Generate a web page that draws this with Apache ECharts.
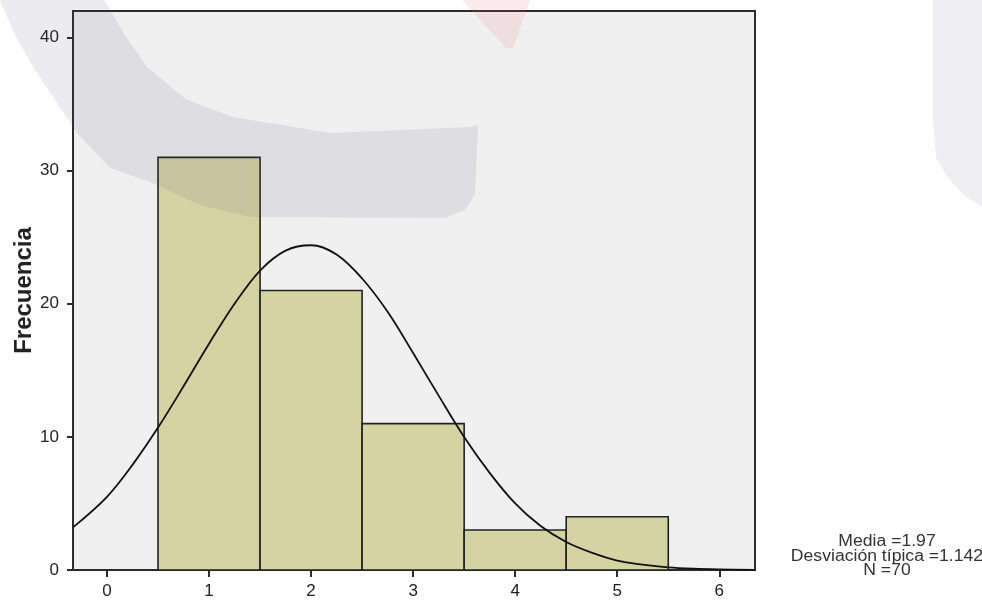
<!DOCTYPE html>
<html>
<head>
<meta charset="utf-8">
<script src="https://cdn.jsdelivr.net/npm/echarts@6/dist/echarts.min.js"></script>
<style>
html,body{margin:0;padding:0;background:#fff;}
#chart{width:982px;height:603px;}
</style>
</head>
<body>
<div id="chart"></div>
<script>
// Histogram bins (centre of each bin, width 1) and frequencies
var binCenters = [1, 2, 3, 4, 5];
var frequencies = [31, 21, 11, 3, 4];
// Normal curve
var curveX = [-0.333, 0, 0.25, 0.5, 0.75, 1, 1.25, 1.5, 1.75, 2, 2.25, 2.5, 2.75, 3, 3.25, 3.5, 3.75, 4, 4.25, 4.5, 4.75, 5, 5.25, 5.5, 5.75, 6, 6.35];
var curveY = [3.2, 5.5, 7.9, 10.7, 13.8, 17.0, 20.0, 22.5, 24.0, 24.4, 23.7, 21.9, 19.4, 16.3, 13.1, 10.0, 7.3, 5.0, 3.3, 2.1, 1.3, 0.7, 0.4, 0.2, 0.1, 0.05, 0.01];
var xTickValues = [0, 1, 2, 3, 4, 5, 6];
var statsLines = ['Media =1.97', 'Desviación típica =1.142', 'N =70'];
var yAxisTitle = 'Frecuencia';

var chart = echarts.init(document.getElementById('chart'), null, {renderer: 'canvas'});

var barData = binCenters.map(function (c, i) { return [c, frequencies[i]]; });
var curveData = curveX.map(function (x, i) { return [x, curveY[i]]; });

var font = '"Liberation Sans", Arial, sans-serif';

function statText(i, y) {
  return {
    type: 'text', x: 887, y: y, z: 50, scaleX: 1.1,
    style: {text: statsLines[i], x: 0, y: 0, textAlign: 'center', textVerticalAlign: 'middle', fill: '#333', font: '16px ' + font}
  };
}

var option = {
  animation: false,
  backgroundColor: '#ffffff',
  grid: {
    left: 73, right: 227, top: 11, bottom: 33,
    containLabel: false, outerBoundsMode: 'none',
    show: true, backgroundColor: '#f0f0f0', borderColor: '#2b2b2b', borderWidth: 2
  },
  xAxis: {
    type: 'value', min: -0.333, max: 6.35,
    splitLine: {show: false},
    axisLine: {show: true, onZero: false, lineStyle: {color: '#2b2b2b', width: 2}},
    axisTick: {show: true, length: 7, lineStyle: {color: '#2b2b2b', width: 2}, customValues: xTickValues},
    axisLabel: {show: true, customValues: xTickValues, margin: 13, fontSize: 17, color: '#222', fontFamily: font}
  },
  yAxis: {
    type: 'value', min: 0, max: 42, interval: 10,
    name: yAxisTitle, nameLocation: 'middle', nameGap: 37, nameRotate: 90, nameMoveOverlap: false,
    nameTextStyle: {fontSize: 24, fontWeight: 'bold', color: '#222', fontFamily: font},
    splitLine: {show: false},
    axisLine: {show: true, onZero: false, lineStyle: {color: '#2b2b2b', width: 2}},
    axisTick: {show: true, length: 6, lineStyle: {color: '#2b2b2b', width: 2}},
    axisLabel: {margin: 14, fontSize: 17, color: '#222', fontFamily: font, showMaxLabel: false}
  },
  series: [
    {
      type: 'custom',
      data: barData,
      z: 2,
      renderItem: function (params, api) {
        var c = api.value(0), v = api.value(1);
        var p0 = api.coord([c - 0.5, v]);
        var p1 = api.coord([c + 0.5, 0]);
        return {
          type: 'rect',
          shape: {x: p0[0], y: p0[1], width: p1[0] - p0[0], height: p1[1] - p0[1]},
          style: {fill: '#d6d3a3', stroke: '#222', lineWidth: 1.6}
        };
      }
    },
    {
      type: 'line',
      data: curveData,
      smooth: 0.35,
      showSymbol: false,
      symbol: 'none',
      clip: true,
      z: 3,
      lineStyle: {color: '#111', width: 1.8}
    }
  ],
  graphic: [
    {
      type: 'polygon', silent: true, z: 100,
      shape: {points: [[0,0],[15,35],[33,67],[55,100],[77,133],[110,168],[150,182],[200,205],[250,217],[445,218],[465,210],[475,195],[478,125],
                       [470,127],[400,130],[330,133],[233,117],[187,100],[147,67],[125,35],[104,0]]},
      style: {fill: 'rgba(80,80,120,0.11)'}
    },
    {
      type: 'polygon', silent: true, z: 100,
      shape: {points: [[933,0],[982,0],[982,207],[965,196],[948,178],[936,158],[933,120]]},
      style: {fill: 'rgba(80,80,120,0.09)'}
    },
    {
      type: 'polygon', silent: true, z: 100,
      shape: {points: [[462,0],[530,0],[513,48],[506,48]]},
      style: {fill: 'rgba(225,110,125,0.14)'}
    },
    statText(0, 542),
    statText(1, 557),
    statText(2, 571)
  ]
};
chart.setOption(option);
</script>
</body>
</html>
